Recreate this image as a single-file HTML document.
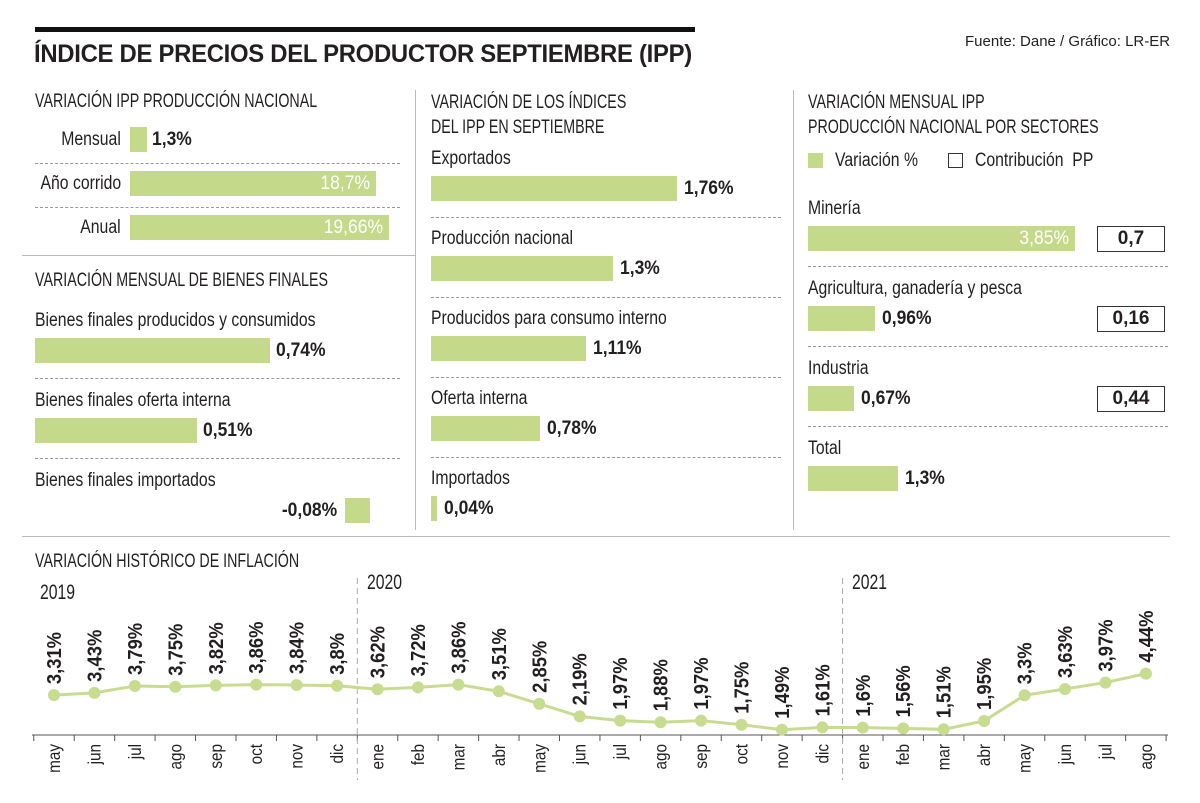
<!DOCTYPE html>
<html><head><meta charset="utf-8">
<style>
body{margin:0;background:#fff;}
#root{position:relative;width:1200px;height:803px;overflow:hidden;background:#fff;font-family:"Liberation Sans Narrow","Liberation Sans",sans-serif;color:#231f20;}
.a{position:absolute;white-space:nowrap;}
.h{font-size:19px;line-height:24px;transform:scaleX(0.75);transform-origin:left top;}
.lab{font-size:19px;line-height:22px;transform:scaleX(0.83);transform-origin:left top;}
.val{font-size:19px;font-weight:bold;line-height:26px;transform:scaleX(0.92);transform-origin:left top;}
.r{transform-origin:right top !important;}
.bar{position:absolute;background:#c5d98b;}
.dash{position:absolute;height:0;border-top:1px dashed #999;}
</style></head>
<body>
<div id="root">
<div class="a" style="left:35px;top:27px;width:660px;height:5px;background:#111"></div>
<div class="a" style="left:34px;top:40px;font-family:'Liberation Sans',sans-serif;font-weight:bold;font-size:25px;letter-spacing:-0.3px;transform:scaleX(0.955);transform-origin:left top">ÍNDICE DE PRECIOS DEL PRODUCTOR SEPTIEMBRE (IPP)</div>
<div class="a" style="left:965px;top:33px;font-size:15px">Fuente: Dane / Gráfico: LR-ER</div>
<div class="a" style="left:415px;top:90px;width:1px;height:440px;background:#bbb"></div>
<div class="a" style="left:793px;top:90px;width:1px;height:440px;background:#bbb"></div>
<div class="a" style="left:22px;top:255px;width:393px;height:1px;background:#bbb"></div>
<div class="a" style="left:22px;top:536px;width:1148px;height:1px;background:#bbb"></div>

<div class="a h" style="left:35px;top:90px">VARIACIÓN IPP PRODUCCIÓN NACIONAL</div>
<div class="a h" style="left:35px;top:269px">VARIACIÓN MENSUAL DE BIENES FINALES</div>
<div class="a h" style="left:431px;top:90px;line-height:25px">VARIACIÓN DE LOS ÍNDICES<br>DEL IPP EN SEPTIEMBRE</div>
<div class="a h" style="left:808px;top:90px;line-height:25px">VARIACIÓN MENSUAL IPP<br>PRODUCCIÓN NACIONAL POR SECTORES</div>
<div class="a" style="left:808px;top:153px;width:15px;height:15px;background:#c5d98b"></div>
<div class="a lab" style="left:835px;top:150px">Variación %</div>
<div class="a" style="left:948px;top:153px;width:13px;height:13px;border:1px solid #333"></div>
<div class="a lab" style="left:975px;top:150px">Contribución &nbsp;PP</div>

<div class="a h" style="left:35px;top:550px">VARIACIÓN HISTÓRICO DE INFLACIÓN</div>
<div class="a h" style="left:40px;top:581px;font-size:21px">2019</div>
<div class="a h" style="left:367px;top:571px;font-size:21px">2020</div>
<div class="a h" style="left:852px;top:571px;font-size:21px">2021</div>
<svg class="a" style="left:0;top:0" width="1200" height="803" id="lc"></svg>
</div>
<script>
const root=document.getElementById('root');
function mk(cls,style,text){const d=document.createElement('div');d.className=cls;d.style.cssText=style;if(text!=null)d.textContent=text;root.appendChild(d);return d;}

// Panel 1
const p1Labels=['Mensual','Año corrido','Anual'];
const p1Values=[1.3,18.7,19.66];
const p1Text=['1,3%','18,7%','19,66%'];
p1Values.forEach((v,i)=>{
 const y=127+i*44, w=v*13.15;
 let e=mk('a lab r','right:'+(1200-121)+'px;top:'+(y+2)+'px',p1Labels[i]);
 
 
 e=mk('bar','left:130px;top:'+y+'px;width:'+w+'px;height:25px');
 
 
 const inside=w>60;
 e=mk(inside?'a val r':'a val',inside?('left:'+(130+w-78)+'px;width:72px;text-align:right;color:#fff;font-weight:normal;top:'+y+'px'):('left:'+(130+w+5)+'px;top:'+y+'px'),p1Text[i]);
 
 
 if(i<2){e=mk('dash','left:35px;width:365px;top:'+(y+36)+'px');
 
 }
});

// Panel 2 bienes finales
const p2Labels=['Bienes finales producidos y consumidos','Bienes finales oferta interna','Bienes finales importados'];
const p2Values=[0.74,0.51,-0.08];
const p2Text=['0,74%','0,51%','-0,08%'];
p2Values.forEach((v,i)=>{
 const y=310+i*80;
 let e=mk('a lab','left:35px;top:'+y+'px',p2Labels[i]);
 
 
 const w=Math.abs(v)*317;
 const bx=v>=0?35:370-w;
 e=mk('bar','left:'+bx+'px;top:'+(y+28)+'px;width:'+w+'px;height:25px');
 
 
 e=mk(v>=0?'a val':'a val r',v>=0?('left:'+(bx+w+6)+'px;top:'+(y+28)+'px'):('right:'+(1200-bx+7)+'px;top:'+(y+28)+'px'),p2Text[i]);
 
 
 if(i<2){e=mk('dash','left:35px;width:365px;top:'+(y+68)+'px');
 
 }
});

// Panel 3 indices
const p3Labels=['Exportados','Producción nacional','Producidos para consumo interno','Oferta interna','Importados'];
const p3Values=[1.76,1.3,1.11,0.78,0.04];
const p3Text=['1,76%','1,3%','1,11%','0,78%','0,04%'];
p3Values.forEach((v,i)=>{
 const y=148+i*80, w=v*140;
 let e=mk('a lab','left:431px;top:'+y+'px',p3Labels[i]);
 
 
 e=mk('bar','left:431px;top:'+(y+28)+'px;width:'+w+'px;height:25px');
 
 
 e=mk('a val','left:'+(431+w+7)+'px;top:'+(y+28)+'px',p3Text[i]);
 
 
 if(i<4){e=mk('dash','left:431px;width:350px;top:'+(y+69)+'px');
 
 }
});

// Panel 4 sectores
const p4Labels=['Minería','Agricultura, ganadería y pesca','Industria','Total'];
const p4Values=[3.85,0.96,0.67,1.3];
const p4Text=['3,85%','0,96%','0,67%','1,3%'];
const p4Contrib=['0,7','0,16','0,44',null];
p4Values.forEach((v,i)=>{
 const y=198+i*80, w=v*69.4;
 let e=mk('a lab','left:808px;top:'+y+'px',p4Labels[i]);
 
 
 e=mk('bar','left:808px;top:'+(y+28)+'px;width:'+w+'px;height:25px');
 
 
 const inside=w>150;
 e=mk(inside?'a val r':'a val',inside?('left:'+(808+w-78)+'px;width:72px;text-align:right;color:#fff;font-weight:normal;top:'+(y+28)+'px'):('left:'+(808+w+7)+'px;top:'+(y+28)+'px'),p4Text[i]);
 
 
 if(p4Contrib[i]){
 e=mk('a','left:1097px;top:'+(y+28)+'px;width:66px;height:24px;border:1px solid #333;text-align:center;line-height:24px;font-size:19px;font-weight:bold',p4Contrib[i]);
 
 }
 if(i<3){e=mk('dash','left:808px;width:360px;top:'+(y+68)+'px');
 
 }
});

// Line chart
const months=['may','jun','jul','ago','sep','oct','nov','dic','ene','feb','mar','abr','may','jun','jul','ago','sep','oct','nov','dic','ene','feb','mar','abr','may','jun','jul','ago'];
const inflation=[3.31,3.43,3.79,3.75,3.82,3.86,3.84,3.8,3.62,3.72,3.86,3.51,2.85,2.19,1.97,1.88,1.97,1.75,1.49,1.61,1.6,1.56,1.51,1.95,3.3,3.63,3.97,4.44];
const valueLabels=['3,31%','3,43%','3,79%','3,75%','3,82%','3,86%','3,84%','3,8%','3,62%','3,72%','3,86%','3,51%','2,85%','2,19%','1,97%','1,88%','1,97%','1,75%','1,49%','1,61%','1,6%','1,56%','1,51%','1,95%','3,3%','3,63%','3,97%','4,44%'];
const NS='http://www.w3.org/2000/svg';
const svg=document.getElementById('lc');
const X=i=>54+i*40.44;
const Y=v=>758-v*19;
function sv(tag,attrs,text){const e=document.createElementNS(NS,tag);for(const k in attrs)e.setAttribute(k,attrs[k]);if(text!=null)e.textContent=text;svg.appendChild(e);return e;}
let e=sv('line',{x1:32,x2:1168,y1:735,y2:735,stroke:'#555','stroke-width':1});


for(let i=0;i<=months.length;i++){
 const x=X(i)-20.22;
 e=sv('line',{x1:x,x2:x,y1:735,y2:741,stroke:'#555','stroke-width':1});
 
 
}
[7.5,19.5].forEach(k=>{
 e=sv('line',{x1:X(k),x2:X(k),y1:578,y2:780,stroke:'#aaa','stroke-width':1,'stroke-dasharray':'6,4'});
 
 
});
e=sv('polyline',{points:inflation.map((v,i)=>X(i)+','+Y(v)).join(' '),fill:'none',stroke:'#c8dc91','stroke-width':3});


inflation.forEach((v,i)=>{
 e=sv('circle',{cx:X(i),cy:Y(v),r:6,fill:'#c8dc91'});
 
 
 e=sv('text',{x:0,y:0,transform:'translate('+(X(i)+7)+','+(Y(v)-11)+') rotate(-90) scale(0.92,1)','font-size':20,'font-weight':'bold',fill:'#231f20','font-family':'Liberation Sans Narrow, Liberation Sans, sans-serif'},valueLabels[i]);
 
 
 e=sv('text',{x:0,y:0,transform:'translate('+(X(i)+6)+',744) rotate(-90) scale(0.85,1)','font-size':18,fill:'#231f20','text-anchor':'end','font-family':'Liberation Sans Narrow, Liberation Sans, sans-serif'},months[i]);
 
 
});
</script>
</body></html>
